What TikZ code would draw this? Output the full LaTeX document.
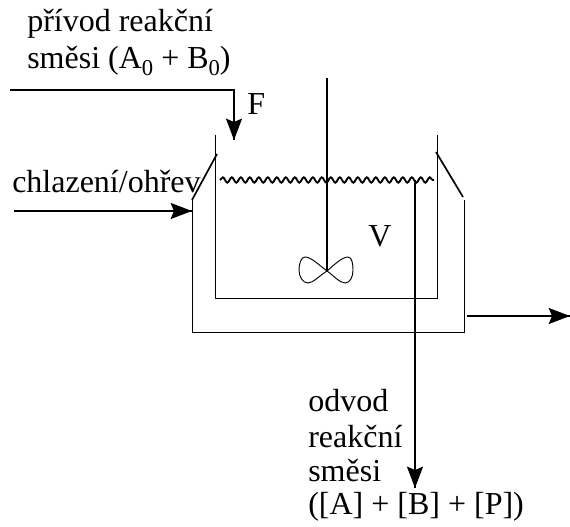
\documentclass[tikz,border=0pt]{standalone}
\usepackage{fontspec}
\setmainfont{Liberation Serif}
\usetikzlibrary{arrows.meta}
\usetikzlibrary{decorations.markings}
\usetikzlibrary{decorations.pathmorphing}
\tikzset{flow/.style = {line width=1.35pt,
                        decoration={markings,
                                    mark=at position 1 with {\arrow{Stealth[length=16pt, width=12pt, inset=2.5pt]}}},
                        postaction={decorate}}}
\tikzset{wall/.style = {line width=0.7pt}}
\tikzset{lip/.style = {line width=1.25pt}}
\tikzset{label/.style = {anchor=base west, inner sep=0, font=\fontsize{24}{24}\selectfont}}
\newcommand{\lowzero}{\raisebox{-0.45ex}{\fontsize{17}{17}\selectfont 0}}

\begin{document}
\begin{tikzpicture}[x=0.75pt, y=-0.75pt]
    \useasboundingbox (0, 0) rectangle (570, 527);

    \draw [wall] (215, 135) -- (215, 298) -- (437, 298) -- (437, 135);
    \draw [wall] (192, 200) -- (192, 332) -- (464, 332) -- (464, 200);
    \draw [lip] (217, 154) -- (192, 200);
    \draw [lip] (436, 152) -- (463, 197);

    \draw [line width=1.4pt, decorate, decoration={snake, segment length=6.75pt, amplitude=2pt}] (220, 180) -- (434, 180);

    \draw [line width=1.5pt] (327, 78) -- (327, 271);
    \draw [wall] (327, 271) .. controls (319, 265) and (311, 257) .. (305, 257) .. controls (301, 257) and (299, 264) .. (299, 270) .. controls (299, 277) and (303, 283) .. (308, 283) .. controls (313, 283) and (319, 276) .. (327, 271);
    \draw [wall] (327, 271) .. controls (334, 265) and (342, 257) .. (348, 257) .. controls (352, 257) and (353, 264) .. (353, 270) .. controls (353, 277) and (350, 283) .. (345, 283) .. controls (340, 283) and (334, 276) .. (327, 271);

    \draw [flow] (10, 90) -- (234, 90) -- (234, 140);
    \draw [flow] (14, 211) -- (192, 211);
    \draw [flow] (467, 316) -- (570, 316);
    \draw [flow] (415, 180) -- (415, 488);

    \node (inlet) [label] at (27, 32) {přívod reakční};
    \node (inletmix) [label] at (27, 69) {směsi (A\lowzero{} + B\lowzero)};
    \node (flowrate) [label] at (247, 115) {F};
    \node (cooling) [label] at (12, 193) {chlazení/ohřev};
    \node (volume) [label] at (368, 246) {V};
    \node (outlet) [label] at (308, 411) {odvod};
    \node (outletmix) [label] at (308, 447) {reakční};
    \node (outletmix2) [label] at (308, 481) {směsi};
    \node (products) [label] at (308, 514) {([A] + [B] + [P])};
  \end{tikzpicture}
\end{document}
